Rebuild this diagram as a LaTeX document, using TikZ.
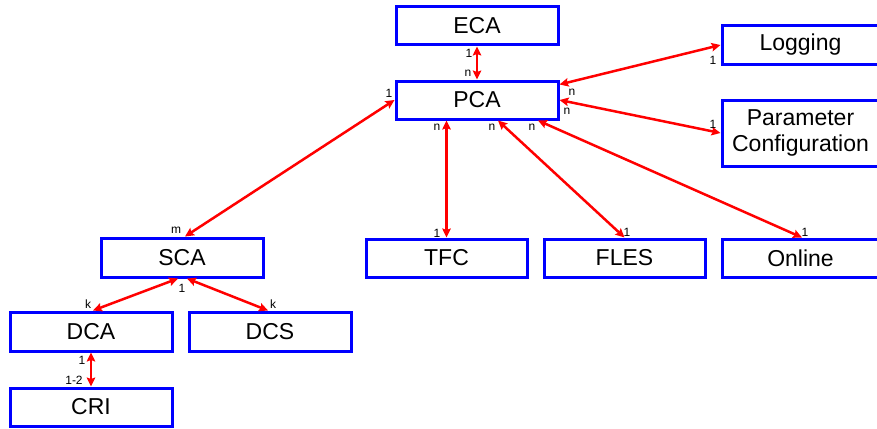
\documentclass[tikz,border=0pt]{standalone}
\usepackage{fontspec}
\setmainfont{Liberation Sans}
\usetikzlibrary{arrows.meta}
\begin{document}
\begin{tikzpicture}[x=1pt,y=-1pt,
  box/.style={draw=blue, line width=3pt, fill=white, rectangle, inner sep=0pt,
    minimum height=38pt, align=center, font=\fontsize{23}{26}\selectfont},
  link/.style={draw=red, line width=2.5pt, {Stealth[length=9pt,width=8.5pt,inset=1.5pt]}-{Stealth[length=9pt,width=8.5pt,inset=1.5pt]}},
  lab/.style={inner sep=0pt, font=\fontsize{12}{12}\selectfont}]
\useasboundingbox (0,0) rectangle (877,428);
% boxes
\node[box, minimum width=162pt] (ECA) at (477,26) {ECA};
\node[box, minimum width=162pt] (PCA) at (477,100) {PCA};
\node[box, minimum width=157pt] (LOG) at (800.5,45) {Logging};
\node[box, minimum width=157pt, minimum height=66pt] (PAR) at (800.5,133) {Parameter\\Configuration};
\node[box, minimum width=162pt, minimum height=39pt] (SCA) at (182,257.5) {SCA};
\node[box, minimum width=161pt] (TFC) at (446.5,258) {TFC};
\node[box, minimum width=161pt] (FLES) at (624.5,258) {FLES};
\node[box, minimum width=157pt] (ONL) at (800.5,258) {Online};
\node[box, minimum width=162pt, minimum height=39pt] (DCA) at (91,331.5) {DCA};
\node[box, minimum width=162pt, minimum height=39pt] (DCS) at (270,331.5) {DCS};
\node[box, minimum width=162pt] (CRI) at (91,407) {CRI};
% connectors
\draw[link] (ECA.south) -- (PCA.north);
\draw[link] (PCA.west) -- ([xshift=3pt]SCA.north);
\draw[link] ([yshift=-5pt]PCA.north east) -- (LOG.west);
\draw[link] (PCA.east) -- (PAR.west);
\draw[link] (PCA.south -| TFC.north) -- (TFC.north);
\draw[link] ([xshift=21pt]PCA.south) -- (FLES.north);
\draw[link] ([xshift=61pt]PCA.south) -- ([xshift=1.5pt]ONL.north);
\draw[link] ([xshift=-4pt]SCA.south) -- ([xshift=2pt]DCA.north);
\draw[link] ([xshift=5pt]SCA.south) -- ([xshift=-2pt]DCS.north);
\draw[link] (DCA.south) -- (CRI.north);
% labels
\node[lab] (l1) at (469,53) {1};
\node[lab] (l2) at (468,73) {n};
\node[lab] (l3) at (389,93) {1};
\node[lab] (l4) at (572,92) {n};
\node[lab] (l5) at (567,111) {n};
\node[lab] (l6) at (713,60) {1};
\node[lab] (l7) at (713,124) {1};
\node[lab] (l8) at (437,127) {n};
\node[lab] (l9) at (492,127) {n};
\node[lab] (l10) at (532,127) {n};
\node[lab] (l11) at (437,233) {1};
\node[lab] (l12) at (627,232) {1};
\node[lab] (l13) at (805,232) {1};
\node[lab] (l14) at (176,230) {m};
\node[lab] (l15) at (182,288) {1};
\node[lab] (l16) at (88,304) {k};
\node[lab] (l17) at (273,304) {k};
\node[lab] (l18) at (82,360) {1};
\node[lab] (l19) at (74,380) {1-2};
\end{tikzpicture}
\end{document}
